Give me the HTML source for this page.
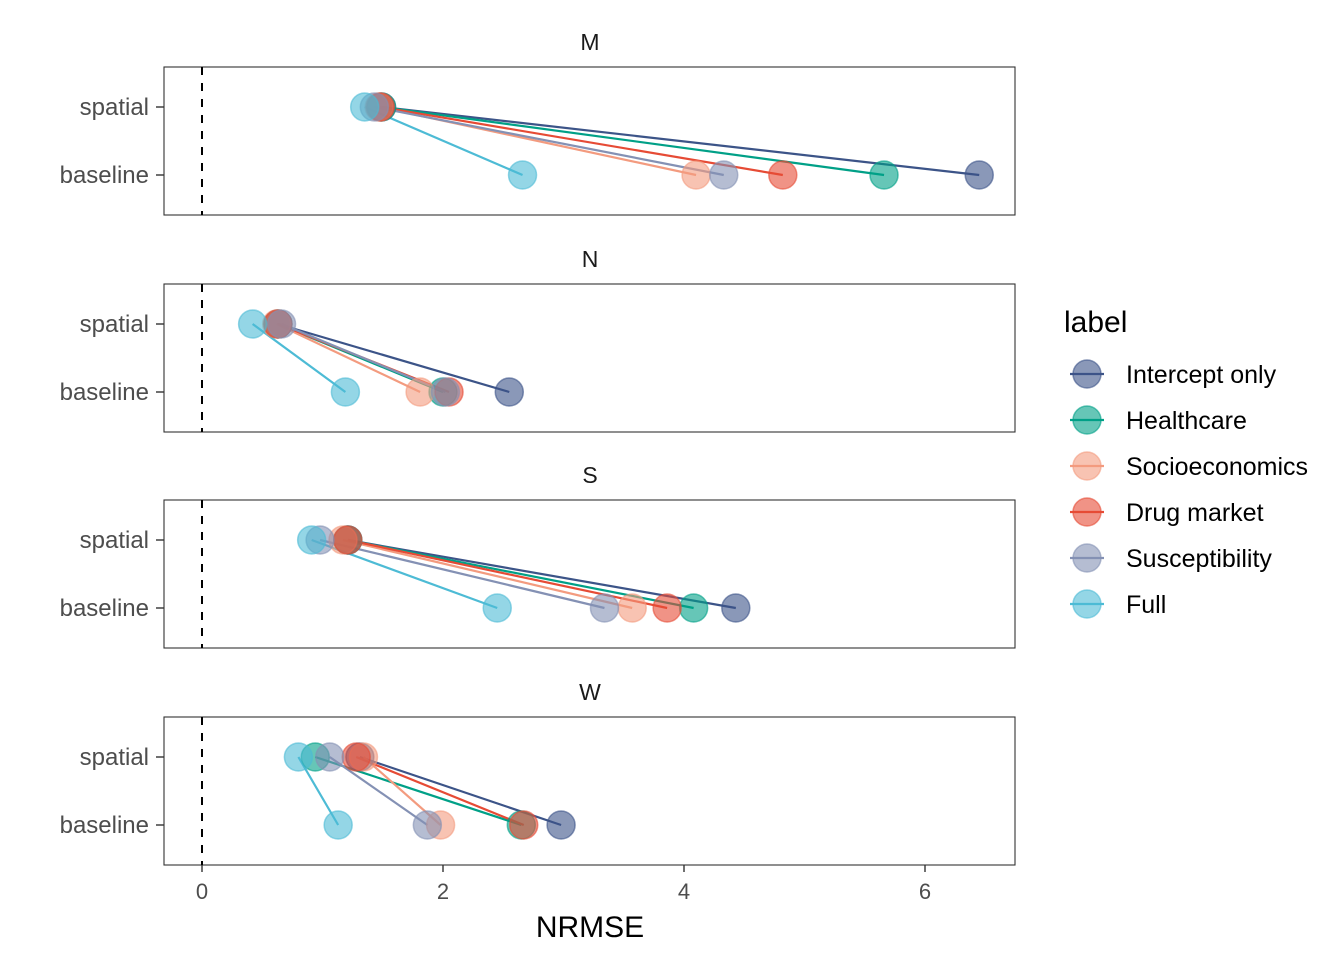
<!DOCTYPE html>
<html><head><meta charset="utf-8"><style>
body{margin:0;background:#fff}
svg{font-family:"Liberation Sans",sans-serif}
</style></head><body>
<svg id="c" width="1344" height="960"></svg>
<script>
const panels=["M","N","S","W"];
const labels=["Intercept only","Healthcare","Socioeconomics","Drug market","Susceptibility","Full"];
const colors=["#3c5488","#00a087","#f39b7f","#e64b35","#8491b4","#4dbbd5"];
const spatialVals=[
[1.49,1.49,1.47,1.48,1.43,1.35],
[0.63,0.63,0.62,0.63,0.66,0.42],
[1.21,1.21,1.17,1.21,0.98,0.91],
[1.31,0.94,1.34,1.28,1.06,0.80]];
const baselineVals=[
[6.45,5.66,4.10,4.82,4.33,2.66],
[2.55,2.00,1.81,2.05,2.02,1.19],
[4.43,4.08,3.57,3.86,3.34,2.45],
[2.98,2.65,1.98,2.67,1.87,1.13]];
const xTicks=[0,2,4,6];
const NS="http://www.w3.org/2000/svg";
const svg=document.getElementById('c');
function el(t,a,p){const e=document.createElementNS(NS,t);for(const k in a)e.setAttribute(k,a[k]);(p||svg).appendChild(e);return e;}
const X=v=>202+v*120.5;
const panelTop=[67,284,500,717];
panels.forEach((p,i)=>{
  const top=panelTop[i],ys=top+40,yb=top+108;
  const g=el('g',{});
  
  
  const st=el('text',{x:590,y:top-17,'text-anchor':'middle','font-size':23,fill:'#1a1a1a'},g);st.textContent=p;
  
  
  el('rect',{x:164,y:top,width:851,height:148,fill:'none',stroke:'#333','stroke-width':1.1},g);
  el('line',{x1:202,x2:202,y1:top,y2:top+148,stroke:'#000','stroke-width':2,'stroke-dasharray':'8,8'},g);
  [["spatial",ys],["baseline",yb]].forEach(([t,y])=>{
    el('line',{x1:156,x2:164,y1:y,y2:y,stroke:'#333','stroke-width':1.4},g);
    const tx=el('text',{x:149,y:y+8,'text-anchor':'end','font-size':24,fill:'#4d4d4d'},g);tx.textContent=t;
    
    
  });
  labels.forEach((l,j)=>{
    const ln=el('line',{x1:X(spatialVals[i][j]),y1:ys,x2:X(baselineVals[i][j]),y2:yb,stroke:colors[j],'stroke-width':2.2},g);
    
    
  });
  labels.forEach((l,j)=>{
    [[spatialVals[i][j],ys],[baselineVals[i][j],yb]].forEach(([v,y],k)=>{
      const c=el('circle',{cx:X(v),cy:y,r:14,fill:colors[j],'fill-opacity':0.6,stroke:colors[j],'stroke-opacity':0.6,'stroke-width':1.5},g);
      
      
    });
  });
});
xTicks.forEach(t=>{
  el('line',{x1:X(t),x2:X(t),y1:865,y2:872,stroke:'#333','stroke-width':1.4});
  const tx=el('text',{x:X(t),y:899,'text-anchor':'middle','font-size':22,fill:'#4d4d4d'});tx.textContent=t;
  
  
});
const xt=el('text',{x:590,y:937,'text-anchor':'middle','font-size':30,fill:'#000'});xt.textContent="NRMSE";


const lt=el('text',{x:1064,y:332,'font-size':30,fill:'#000'});lt.textContent="label";


labels.forEach((l,j)=>{
  const y=374+j*46;
  const g=el('g',{});
  
  
  el('line',{x1:1070,x2:1104,y1:y,y2:y,stroke:colors[j],'stroke-width':2.2},g);
  el('circle',{cx:1087,cy:y,r:14,fill:colors[j],'fill-opacity':0.6,stroke:colors[j],'stroke-opacity':0.6,'stroke-width':1.5},g);
  const t=el('text',{x:1126,y:y+9,'font-size':25,fill:'#000'},g);t.textContent=l;
});
</script>
</body></html>
